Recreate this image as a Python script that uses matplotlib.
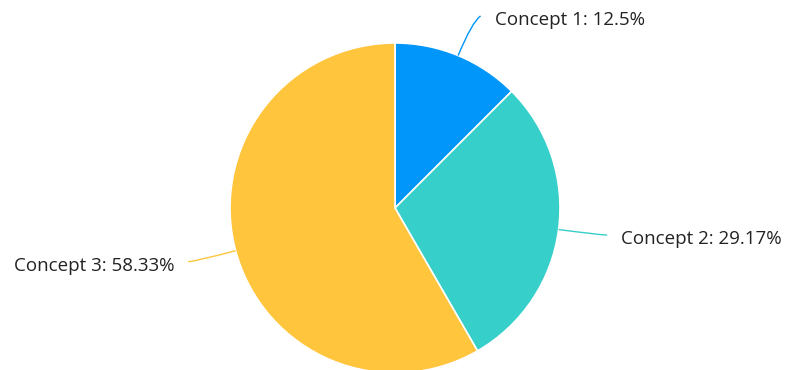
import numpy as np
import matplotlib.pyplot as plt
from matplotlib.path import Path
from matplotlib.patches import PathPatch

labels = ["Concept 1", "Concept 2", "Concept 3"]
values = [3, 7, 14]
percents = ["12.5%", "29.17%", "58.33%"]
colors = ["#0096fa", "#36cfc9", "#ffc53d"]

W, H = 787, 370
cx, cy, r = 395, H - 208, 165

fig = plt.figure(figsize=(W / 100, H / 100), dpi=100)
ax = fig.add_axes([0, 0, 1, 1])

wedges, _ = ax.pie(values, colors=colors, startangle=90, counterclock=False,
                   center=(cx, cy), radius=r, frame=True,
                   wedgeprops=dict(edgecolor="white", linewidth=1.2))
ax.set_xlim(0, W)
ax.set_ylim(0, H)
ax.axis("off")

# leader lines + labels, placed from each wedge's middle angle
for w, lab, pct, col in zip(wedges, labels, percents, colors):
    mid = np.deg2rad((w.theta1 + w.theta2) / 2)
    c, s = np.cos(mid), np.sin(mid)
    side = 1 if c >= 0 else -1
    p0 = (cx + r * c, cy + r * s)
    p1 = (cx + 1.22 * r * c, cy + 1.22 * r * s)
    p2 = (cx + 1.26 * r * c + side * 6, cy + 1.26 * r * s)
    path = Path([p0, p1, p2], [Path.MOVETO, Path.CURVE3, Path.CURVE3])
    ax.add_patch(PathPatch(path, facecolor="none", edgecolor=col, linewidth=1))
    ax.text(p2[0] + side * 14, p2[1] - 4, f"{lab}: {pct}",
            ha="left" if side > 0 else "right", va="center",
            fontsize=13.5, color="#222222", family="Open Sans")

fig.savefig("out.png", dpi=100)
